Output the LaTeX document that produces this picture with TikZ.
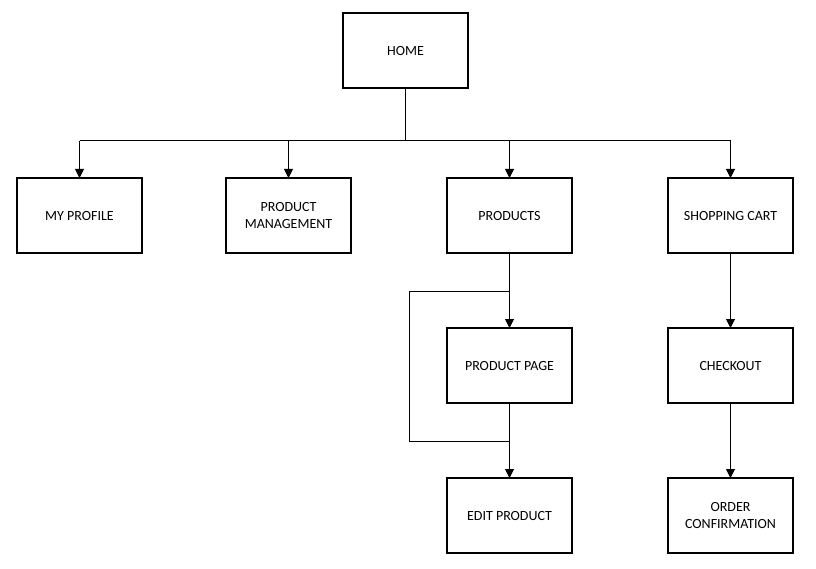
\documentclass[tikz,border=0pt]{standalone}
\usepackage{fontspec}
\setmainfont{Carlito}
\usetikzlibrary{positioning,arrows.meta}

\begin{document}
\begin{tikzpicture}[
  x=1pt, y=-1pt,
  every node/.style={font=\fontsize{14}{17}\selectfont},
  page/.style={draw, line width=1.2pt, minimum width=125pt, minimum height=75pt,
    inner sep=2pt, outer sep=0pt, align=center, text depth=0pt},
  link/.style={draw, line width=1pt, -{Triangle[width=9pt,length=9pt]}},
  wire/.style={draw, line width=1pt}
]
\useasboundingbox (0,0) rectangle (816,569);

% Pagina's
\node[page] (home) at (405.5,50.5) {HOME};
\node[page] (profile) at (79.5,215.5) {MY PROFILE};
\node[page] (manage) at (288.5,215.5) {PRODUCT\\MANAGEMENT};
\node[page] (products) at (509.5,215.5) {PRODUCTS};
\node[page] (cart) at (730.5,215.5) {SHOPPING CART};
\node[page, below=75pt of products] (prodpage) {PRODUCT PAGE};
\node[page, below=75pt of prodpage] (edit) {EDIT PRODUCT};
\node[page, below=75pt of cart] (checkout) {CHECKOUT};
\node[page, below=75pt of checkout] (confirm) {ORDER\\CONFIRMATION};

% Verbindingen vanaf home
\coordinate (bus) at (405.5,141);
\draw[wire] (home.south) -- (bus);
\foreach \target in {profile, manage, products, cart}
  \draw[link] (bus -| \target.north) -- (\target.north);
\draw[wire] (bus -| profile.north) -- (bus -| cart.north);

% Productketen met lus
\coordinate (loopin) at (products.south |- 0,291);
\coordinate (loopout) at (products.south |- 0,441);
\coordinate (loopleft) at (409,0);
\draw[link] (products.south) -- (prodpage.north);
\draw[wire] (loopin) -- (loopin -| loopleft) -- (loopout -| loopleft) -- (loopout);
\draw[link] (prodpage.south) -- (edit.north);

% Winkelwagen
\draw[link] (cart.south) -- (checkout.north);
\draw[link] (checkout.south) -- (confirm.north);

\end{tikzpicture}
\end{document}
